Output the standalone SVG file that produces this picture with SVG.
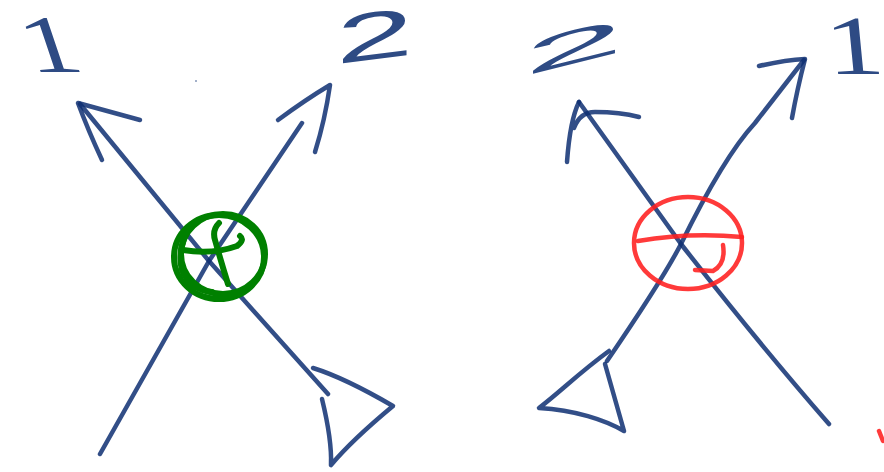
<svg xmlns="http://www.w3.org/2000/svg" width="884" height="472" viewBox="0 0 884 472">
<style>
.b{fill:none;stroke:#0e2f72;stroke-opacity:.85;stroke-width:4.5;stroke-linecap:round;stroke-linejoin:round}
.g{fill:none;stroke:#008000;stroke-width:6;stroke-linecap:round;stroke-linejoin:round}
.r{fill:none;stroke:#ff1f1f;stroke-opacity:.88;stroke-width:4.5;stroke-linecap:round;stroke-linejoin:round}
.t{fill:#2e4b84}
</style>
<rect width="884" height="472" fill="#fff"/>
<g id="left-label-1"><text class="t" transform="translate(31,72) scale(1.35,1) skewX(14)" font-family="Liberation Serif, serif" font-size="82">1</text></g>
<g id="left-label-2"><text class="t" transform="translate(336,64) skewY(-7) scale(2.05,1)" font-family="Liberation Sans, sans-serif" font-size="68">2</text></g>
<g id="right-label-2"><text class="t" transform="translate(524,76) skewY(-14) scale(2.9,0.78)" font-family="Liberation Sans, sans-serif" font-size="62">2</text></g>
<g id="right-label-1"><text class="t" transform="translate(828,74) scale(1.38,1) skewX(4)" font-family="Liberation Serif, serif" font-size="84">1</text></g>
<g id="connectors">
<path class="b" d="M80,104 L209,261 L328,394"/>
<path class="b" d="M140,120 L78,103 Q88,130 102,160"/>
<path class="b" d="M100,454 L209,261 L302,123"/>
<path class="b" d="M278,120 Q305,100 330,85 Q325,120 315,152"/>
<path class="b" d="M313,368 Q345,378 393,406 Q352,440 331,465 M322,399 Q332,440 331,465"/>
<path class="b" d="M579,102 L681,244 Q760,345 829,424"/>
<path class="b" d="M567,162 Q570,120 579,102 M574,128 Q580,112 595,112 Q620,112 639,117"/>
<path class="b" d="M607,361 C635,320 665,275 681,244 C705,195 730,150 755,123 L804,60"/>
<path class="b" d="M759,66 Q785,60 805,59 Q797,90 792,118"/>
<path class="b" d="M609,351 C580,372 560,392 539,408 C575,410 605,420 624,431 L605,364"/>
<circle cx="196" cy="81" r="0.8" fill="#2e4b84"/>
</g>
<g id="green-symbol">
<ellipse class="g" cx="219" cy="257" rx="45" ry="42" stroke-width="7"/>
<ellipse class="g" cx="223" cy="254" rx="42" ry="40" stroke-width="3.5"/>
<path class="g" d="M192,224 Q176,248 182,270 Q190,290 212,292" stroke-width="4.5"/>
<path class="g" d="M183,250 Q212,255 237,246 Q245,240 240,236" stroke-width="4.5"/>
<path class="g" d="M219,223 Q212,230 215,240 Q222,265 228,284" stroke-width="4.5"/>
</g>
<g id="red-symbol">
<ellipse class="r" cx="688" cy="243" rx="54" ry="46"/>
<path class="r" d="M638,241 Q690,232 742,237"/>
<path class="r" d="M723,245 Q726,264 713,271 L695,270"/>
<path class="r" d="M879,431 L883,441"/>
</g>
</svg>
